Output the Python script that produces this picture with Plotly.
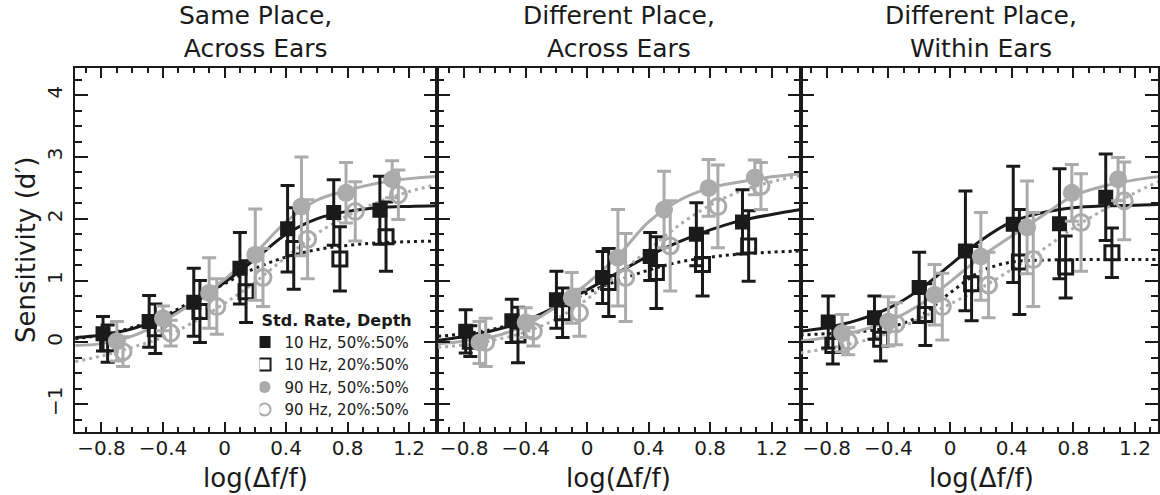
import plotly.graph_objects as go

# ---------------- data ----------------
panel_titles = ["Same Place,<br>Across Ears", "Different Place,<br>Across Ears", "Different Place,<br>Within Ears"]
series_names = ["10 Hz, 50%:50%", "10 Hz, 20%:50%", "90 Hz, 50%:50%", "90 Hz, 20%:50%"]

x_sq_filled = [-0.79, -0.49, -0.20, 0.10, 0.41, 0.71, 1.01]
x_sq_open = [-0.76, -0.45, -0.16, 0.14, 0.45, 0.75, 1.05]
x_ci_filled = [-0.70, -0.40, -0.10, 0.20, 0.50, 0.79, 1.09]
x_ci_open = [-0.66, -0.35, -0.05, 0.25, 0.54, 0.85, 1.13]

# panel 1: Same Place, Across Ears
p1_10_50 = [0.14, 0.34, 0.65, 1.20, 1.84, 2.10, 2.14]
p1_10_50_err = [0.28, 0.42, 0.55, 0.58, 0.70, 0.53, 0.55]
p1_10_20 = [-0.02, 0.22, 0.50, 0.82, 1.52, 1.35, 1.71]
p1_10_20_err = [0.30, 0.40, 0.50, 0.50, 0.66, 0.52, 0.56]
p1_90_50 = [0.02, 0.39, 0.80, 1.42, 2.20, 2.42, 2.64]
p1_90_50_err = [0.32, 0.20, 0.57, 0.74, 0.80, 0.49, 0.30]
p1_90_20 = [-0.15, 0.15, 0.58, 1.05, 1.67, 2.12, 2.39]
p1_90_20_err = [0.24, 0.21, 0.45, 0.47, 0.64, 0.48, 0.40]

# panel 2: Different Place, Across Ears
p2_10_50 = [0.18, 0.35, 0.69, 1.05, 1.39, 1.75, 1.95]
p2_10_50_err = [0.35, 0.35, 0.46, 0.42, 0.39, 0.51, 0.52]
p2_10_20 = [0.02, 0.12, 0.48, 0.97, 1.13, 1.26, 1.56]
p2_10_20_err = [0.25, 0.45, 0.40, 0.55, 0.58, 0.51, 0.57]
p2_90_50 = [0.00, 0.32, 0.72, 1.37, 2.15, 2.50, 2.67]
p2_90_50_err = [0.34, 0.24, 0.41, 0.78, 0.62, 0.46, 0.28]
p2_90_20 = [0.00, 0.18, 0.48, 1.05, 1.56, 2.20, 2.53]
p2_90_20_err = [0.39, 0.24, 0.38, 0.71, 0.73, 0.67, 0.38]

# panel 3: Different Place, Within Ears
p3_10_50 = [0.33, 0.40, 0.89, 1.48, 1.91, 1.92, 2.35]
p3_10_50_err = [0.42, 0.35, 0.57, 0.97, 0.94, 0.89, 0.70]
p3_10_20 = [-0.05, 0.05, 0.45, 0.95, 1.30, 1.22, 1.45]
p3_10_20_err = [0.30, 0.35, 0.50, 0.60, 0.85, 0.50, 0.40]
p3_90_50 = [0.15, 0.34, 0.77, 1.39, 1.86, 2.42, 2.64]
p3_90_50_err = [0.30, 0.40, 0.49, 0.71, 0.75, 0.46, 0.35]
p3_90_20 = [0.02, 0.30, 0.58, 0.93, 1.34, 1.94, 2.29]
p3_90_20_err = [0.22, 0.34, 0.54, 0.53, 0.76, 0.79, 0.63]

# fitted curves (at sample points)
fit_x12 = [-0.97, -0.8, -0.6, -0.4, -0.2, 0.0, 0.2, 0.4, 0.6, 0.8, 1.0, 1.2, 1.39]
fit_x3 = [-0.97, -0.8, -0.6, -0.4, -0.2, 0.0, 0.2, 0.4, 0.6, 0.8, 1.0, 1.2, 1.35]

p1_fit_10_50 = [0.08, 0.12, 0.22, 0.40, 0.64, 0.97, 1.35, 1.75, 2.00, 2.12, 2.18, 2.20, 2.21]
p1_fit_10_20 = [0.06, 0.12, 0.24, 0.42, 0.68, 0.95, 1.20, 1.38, 1.50, 1.57, 1.61, 1.63, 1.64]
p1_fit_90_50 = [-0.05, -0.02, 0.10, 0.34, 0.65, 1.02, 1.45, 1.95, 2.30, 2.46, 2.58, 2.65, 2.69]
p1_fit_90_20 = [-0.31, -0.22, -0.08, 0.08, 0.33, 0.63, 0.98, 1.38, 1.76, 2.05, 2.27, 2.44, 2.56]

p2_fit_10_50 = [0.03, 0.10, 0.20, 0.35, 0.58, 0.85, 1.13, 1.40, 1.63, 1.82, 1.97, 2.07, 2.15]
p2_fit_10_20 = [0.10, 0.14, 0.22, 0.36, 0.56, 0.80, 1.00, 1.17, 1.30, 1.38, 1.43, 1.46, 1.48]
p2_fit_90_50 = [-0.02, 0.02, 0.10, 0.28, 0.58, 0.95, 1.40, 1.95, 2.30, 2.50, 2.60, 2.68, 2.73]
p2_fit_90_20 = [-0.08, -0.04, 0.04, 0.17, 0.38, 0.70, 1.10, 1.50, 1.90, 2.22, 2.45, 2.60, 2.70]

p3_fit_10_50 = [0.18, 0.24, 0.36, 0.55, 0.85, 1.25, 1.65, 1.95, 2.10, 2.18, 2.21, 2.22, 2.23]
p3_fit_10_20 = [0.12, 0.14, 0.17, 0.24, 0.42, 0.80, 1.15, 1.30, 1.33, 1.34, 1.34, 1.34, 1.34]
p3_fit_90_50 = [0.02, 0.08, 0.18, 0.34, 0.60, 0.98, 1.38, 1.72, 2.05, 2.37, 2.53, 2.63, 2.68]
p3_fit_90_20 = [-0.17, -0.10, 0.00, 0.15, 0.38, 0.62, 0.88, 1.18, 1.50, 1.85, 2.15, 2.42, 2.60]

x_ticks = [-0.8, -0.4, 0, 0.4, 0.8, 1.2]
x_ticktext = ["\u22120.8", "\u22120.4", "0", "0.4", "0.8", "1.2"]
y_ticks = [-1, 0, 1, 2, 3, 4]
y_ticktext = ["\u22121", "0", "1", "2", "3", "4"]
x_title = "log(\u0394f/f)"
y_title = "Sensitivity (d\u2032)"
legend_title = "Std. Rate, Depth"

# ---------------- style ----------------
W, H = 1160, 495
BLACK = "#1a1a1a"
GRAY = "#ababab"
FONT = "DejaVu Sans, Verdana, sans-serif"

panels = [
    dict(fx=fit_x12, fits=[p1_fit_10_50, p1_fit_10_20, p1_fit_90_50, p1_fit_90_20],
         ys=[p1_10_50, p1_10_20, p1_90_50, p1_90_20],
         es=[p1_10_50_err, p1_10_20_err, p1_90_50_err, p1_90_20_err],
         dom=(75, 438), rng=(-0.973, 1.383)),
    dict(fx=fit_x12, fits=[p2_fit_10_50, p2_fit_10_20, p2_fit_90_50, p2_fit_90_20],
         ys=[p2_10_50, p2_10_20, p2_90_50, p2_90_20],
         es=[p2_10_50_err, p2_10_20_err, p2_90_50_err, p2_90_20_err],
         dom=(438, 802), rng=(-0.975, 1.388)),
    dict(fx=fit_x3, fits=[p3_fit_10_50, p3_fit_10_20, p3_fit_90_50, p3_fit_90_20],
         ys=[p3_10_50, p3_10_20, p3_90_50, p3_90_20],
         es=[p3_10_50_err, p3_10_20_err, p3_90_50_err, p3_90_20_err],
         dom=(802, 1160), rng=(-0.969, 1.349)),
]

xs_list = [x_sq_filled, x_sq_open, x_ci_filled, x_ci_open]
colors = [BLACK, BLACK, GRAY, GRAY]
dashes = ["solid", "3px,4px", "solid", "3px,4px"]
symbols = ["square", "square-open", "circle", "circle-open"]
sizes = [15, 14, 18, 16]
draw_order = [1, 0, 2, 3]

fig = go.Figure()

for pi, p in enumerate(panels):
    xa = "x" if pi == 0 else f"x{pi+1}"
    ya = "y" if pi == 0 else f"y{pi+1}"
    for si in range(4):
        fig.add_trace(go.Scatter(
            x=p["fx"], y=p["fits"][si], mode="lines",
            line=dict(color=colors[si], width=3, dash=dashes[si], shape="spline", smoothing=1.0),
            xaxis=xa, yaxis=ya, showlegend=False, hoverinfo="skip"))
    for si in draw_order:
        fig.add_trace(go.Scatter(
            x=xs_list[si], y=p["ys"][si], mode="markers",
            marker=dict(symbol=symbols[si], size=sizes[si], color=colors[si],
                        line=dict(width=3 if "open" in symbols[si] else 0, color=colors[si])),
            error_y=dict(type="data", array=p["es"][si], color=colors[si], thickness=3, width=7),
            xaxis=xa, yaxis=ya, name=series_names[si], legendrank=si + 1,
            showlegend=(pi == 0)))

y_bot, y_top = 432, 68
ydom = (1 - y_bot / H, 1 - y_top / H)

layout = dict(
    width=W, height=H, margin=dict(l=0, r=0, t=0, b=0),
    paper_bgcolor="white", plot_bgcolor="white",
    font=dict(family=FONT, color=BLACK, size=20),
    showlegend=True,
    legend=dict(x=260 / W, y=1 - 305 / H, xanchor="left", yanchor="top",
                bgcolor="rgba(0,0,0,0)", borderwidth=0, tracegroupgap=0,
                itemsizing="constant", indentation=-15,
                font=dict(family=FONT, size=15, color=BLACK),
                title=dict(text="<b>" + legend_title + "</b>", font=dict(family=FONT, size=16, color=BLACK))),
)

for pi, p in enumerate(panels):
    xk = "xaxis" if pi == 0 else f"xaxis{pi+1}"
    yk = "yaxis" if pi == 0 else f"yaxis{pi+1}"
    ya = "y" if pi == 0 else f"y{pi+1}"
    xa = "x" if pi == 0 else f"x{pi+1}"
    layout[xk] = dict(
        domain=[p["dom"][0] / W, p["dom"][1] / W], range=list(p["rng"]), anchor=ya,
        showline=True, linecolor=BLACK, linewidth=2, mirror="ticks",
        ticks="inside", ticklen=10, tickwidth=1.5, tickcolor=BLACK,
        tickmode="array", tickvals=x_ticks, ticktext=x_ticktext,
        ticklabelstandoff=-3,
        tickfont=dict(size=20, family=FONT, color=BLACK),
        minor=dict(ticks="inside", ticklen=5, tickwidth=1.5, tickcolor=BLACK, dtick=0.1, tick0=0, showgrid=False),
        showgrid=False, zeroline=False, fixedrange=True)
    layout[yk] = dict(
        domain=list(ydom), range=[-1.45, 4.44], anchor=xa,
        showline=True, linecolor=BLACK, linewidth=2, mirror="ticks",
        ticks="inside", ticklen=13, tickwidth=1.5, tickcolor=BLACK,
        tickmode="array", tickvals=y_ticks, ticktext=y_ticktext,
        showticklabels=(pi == 0), tickangle=-90, ticklabelstandoff=3,
        tickfont=dict(size=20, family=FONT, color=BLACK),
        minor=dict(ticks="inside", ticklen=7, tickwidth=1.5, tickcolor=BLACK, dtick=0.25, tick0=0, showgrid=False),
        showgrid=False, zeroline=False, fixedrange=True)

annotations = []
centers = [256, 620, 983]
for pi in range(3):
    annotations.append(dict(text=panel_titles[pi], x=centers[pi] / W, y=1 - 32 / H, xref="paper", yref="paper",
                            xanchor="center", yanchor="middle", showarrow=False,
                            font=dict(size=25, family=FONT, color=BLACK)))
    annotations.append(dict(text=x_title, x=centers[pi] / W, y=1 - 478 / H, xref="paper", yref="paper",
                            xanchor="center", yanchor="middle", showarrow=False,
                            font=dict(size=26, family=FONT, color=BLACK)))
annotations.append(dict(text=y_title, x=26 / W, y=1 - 250 / H, xref="paper", yref="paper",
                        xanchor="center", yanchor="middle", showarrow=False, textangle=-90,
                        font=dict(size=26, family=FONT, color=BLACK)))
layout["annotations"] = annotations

fig.update_layout(**layout)
fig.write_html("out.html")
